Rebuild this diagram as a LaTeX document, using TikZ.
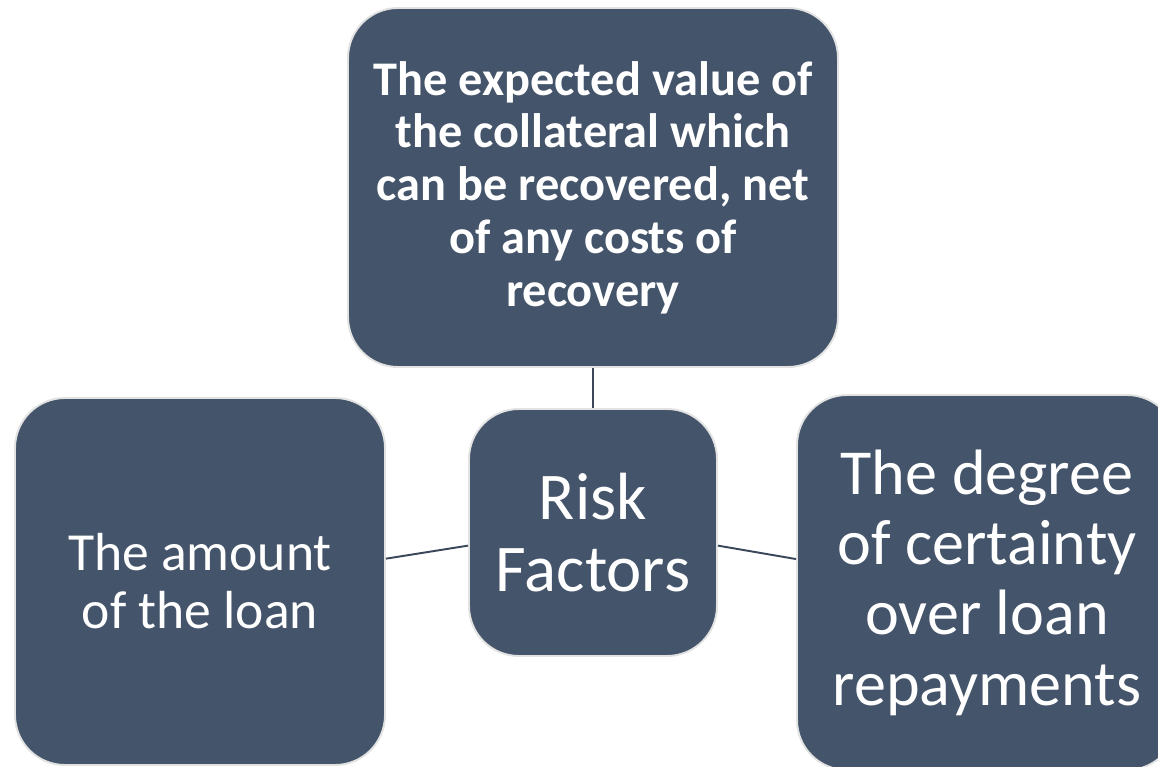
\documentclass[tikz,border=0pt]{standalone}
\usepackage{fontspec}
\setmainfont{Carlito}
\definecolor{slate}{HTML}{44546A}
\definecolor{rim}{HTML}{E2E2E2}

\begin{document}
\begin{tikzpicture}[
    factorbox/.style={fill=slate, draw=rim, line width=1.1pt, rounded corners=1cm,
      text=white, align=center, inner sep=0pt},
    link/.style={draw=slate!85!black, line width=1.1pt}]
  \useasboundingbox (0cm,0cm) rectangle (23.16cm,-15.34cm);
  \node[factorbox, minimum width=9.8cm, minimum height=7.18cm,
    font=\fontsize{27.5}{30}\selectfont\bfseries] (collateral) at (11.86cm,-3.75cm)
    {The expected value of\\the collateral which\\can be recovered, net\\of any costs of\\recovery};
  \node[factorbox, minimum width=4.96cm, minimum height=4.94cm,
    font=\fontsize{38}{41}\selectfont] (risk) at (11.86cm,-10.65cm) {Risk\\Factors};
  \node[factorbox, minimum width=7.4cm, minimum height=7.34cm,
    font=\fontsize{30.5}{33}\selectfont] (amount) at (4.0cm,-11.63cm) {The amount\\of the loan};
  \node[factorbox, minimum width=7.6cm, minimum height=7.5cm,
    font=\fontsize{36.5}{40}\selectfont] (certainty) at (19.74cm,-11.65cm)
    {The degree\\of certainty\\over loan\\repayments};
  \draw[link] (collateral.south) -- (risk.north);
  \draw[link] (amount.7.2) -- (risk.186.7);
  \draw[link] (risk.-6.7) -- (certainty.173.8);
\end{tikzpicture}
\end{document}
